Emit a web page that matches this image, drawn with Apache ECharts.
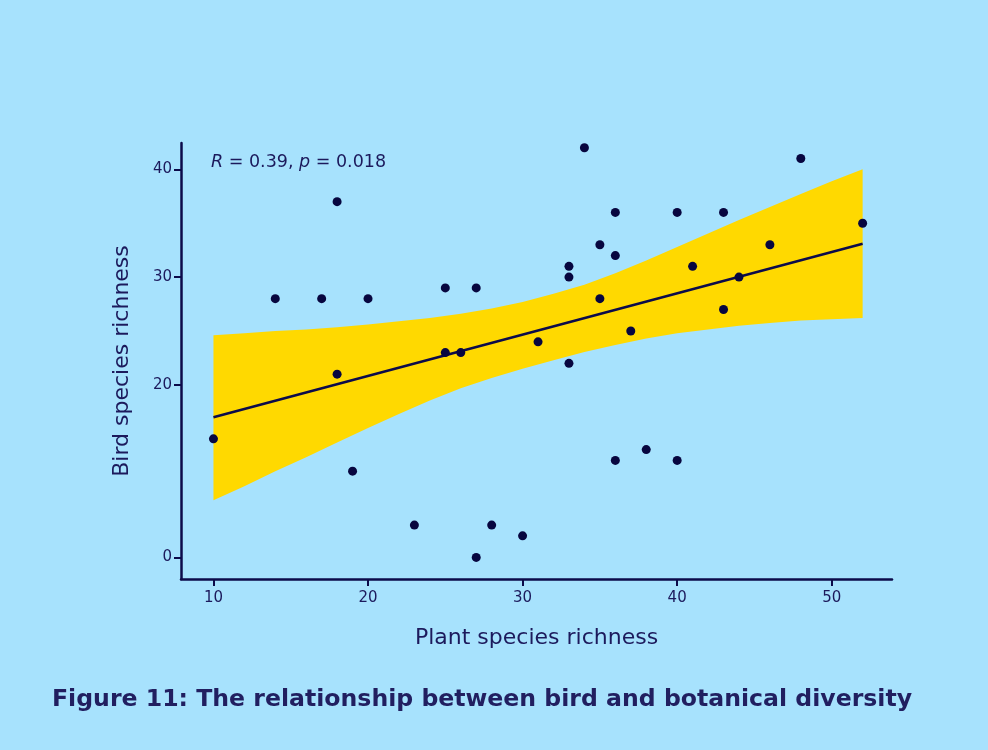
<!DOCTYPE html>
<html><head><meta charset="utf-8">
<script src="https://cdn.jsdelivr.net/npm/echarts@6/dist/echarts.min.js"></script>
<style>html,body{margin:0;padding:0;background:#a7e2fd;}#c{width:988px;height:750px;}</style>
</head><body><div id="c"></div>
<script>
// Scatter data: plant species richness (x) vs bird species richness (y)
const plantRichness = [10,14,17,18,18,19,20,23,25,25,26,27,27,28,30,31,33,33,33,34,35,35,36,36,36,37,38,40,40,41,43,43,44,46,48,52];
const birdRichness  = [15,28,28,37,21,12,28,7,29,23,23,29,4,7,6,24,31,30,22,42,33,28,36,32,13,25,14,36,13,31,36,27,30,33,41,35];

// Fitted regression line
const fitX = [10, 52];
const fitY = [17.0, 33.1];

// Confidence band
const bandX     = [10,12,14,16,18,20,22,24,26,28,30,32,34,36,38,40,42,44,46,48,50,52];
const bandUpper = [24.6,24.8,25.0,25.15,25.35,25.6,25.9,26.2,26.6,27.1,27.7,28.45,29.3,30.35,31.55,32.8,34.05,35.3,36.5,37.7,38.9,40.0];
const bandLower = [9.3,10.6,12.0,13.3,14.65,16.0,17.3,18.55,19.7,20.65,21.5,22.3,23.05,23.7,24.3,24.8,25.15,25.5,25.75,25.98,26.1,26.2];

// Tick labels
const xTickValues = [10,20,30,40,50];
const yTickValues = [4,20,30,40];
const yTickLabels = ['0','20','30','40'];

const NAVY = '#0c0b4a';
const TEXT = '#1c1a5c';
const FONT = '"DejaVu Sans", Inter, sans-serif';

const bandData = bandX.map((x, i) => [x, bandLower[i], bandUpper[i]]);

const chart = echarts.init(document.getElementById('c'));
chart.setOption({
  backgroundColor: '#a7e2fd',
  animation: false,
  grid: { left: 181, right: 96, top: 143, bottom: 171, containLabel: false },
  xAxis: {
    type: 'value', min: 7.9, max: 53.9,
    name: 'Plant species richness', nameLocation: 'middle', nameGap: 48,
    nameTextStyle: { fontSize: 22, color: TEXT, fontFamily: FONT },
    axisLine: { show: true, onZero: false, lineStyle: { color: NAVY, width: 2.5 } },
    axisTick: { show: true, length: 7, customValues: xTickValues, lineStyle: { color: NAVY, width: 2 } },
    axisLabel: { customValues: xTickValues, color: TEXT, fontSize: 15, fontFamily: FONT, margin: 12 },
    splitLine: { show: false }
  },
  yAxis: {
    type: 'value', min: 2, max: 42.44,
    name: 'Bird species richness', nameLocation: 'middle', nameGap: 48,
    nameTextStyle: { fontSize: 22, color: TEXT, fontFamily: FONT },
    axisLine: { show: true, onZero: false, lineStyle: { color: NAVY, width: 2.5 } },
    axisTick: { show: true, length: 7, customValues: yTickValues, lineStyle: { color: NAVY, width: 2 } },
    axisLabel: {
      customValues: yTickValues, color: TEXT, fontSize: 15, fontFamily: FONT, margin: 9,
      formatter: function (v) { const i = yTickValues.indexOf(v); return i >= 0 ? yTickLabels[i] : ''; }
    },
    splitLine: { show: false }
  },
  graphic: [
    {
      type: 'text', left: 211, top: 153,
      style: {
        text: '{i|R} = 0.39, {i|p} = 0.018',
        fill: TEXT, fontSize: 17.5, fontFamily: FONT,
        rich: { i: { fontStyle: 'italic', fontSize: 17.5, fontFamily: FONT, fill: TEXT } }
      }
    },
    {
      type: 'text', left: 52, top: 688,
      style: {
        text: 'Figure 11: The relationship between bird and botanical diversity',
        fill: '#211f60', fontSize: 23.6, fontWeight: 'bold', fontFamily: FONT
      }
    }
  ],
  series: [
    {
      type: 'custom', name: 'band', silent: true, z: 1,
      data: bandData,
      encode: { x: 0, y: [1, 2] },
      renderItem: function (params, api) {
        if (params.dataIndex !== 0) return null;
        const upper = bandData.map(d => api.coord([d[0], d[2]]));
        const lower = bandData.map(d => api.coord([d[0], d[1]])).reverse();
        return {
          type: 'polygon',
          shape: { points: upper.concat(lower) },
          style: { fill: '#ffd900' }
        };
      }
    },
    {
      type: 'line', name: 'fit', symbol: 'none',
      data: fitX.map((x, i) => [x, fitY[i]]),
      lineStyle: { color: NAVY, width: 2.5 }, z: 2
    },
    {
      type: 'scatter', name: 'sites', symbolSize: 9,
      data: plantRichness.map((x, i) => [x, birdRichness[i]]),
      itemStyle: { color: '#07063f', opacity: 1 }, z: 3
    }
  ]
});
</script>
</body></html>
